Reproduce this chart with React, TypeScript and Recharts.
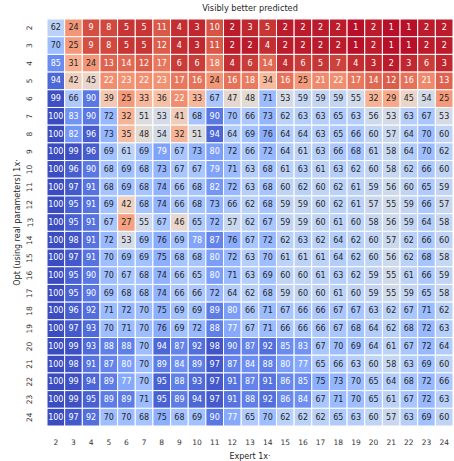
import { ScatterChart, Scatter, XAxis, YAxis, Label } from "recharts";

const colLabels = [2, 3, 4, 5, 6, 7, 8, 9, 10, 11, 12, 13, 14, 15, 16, 17, 18, 19, 20, 21, 22, 23, 24];
const rowLabels = [2, 3, 4, 5, 6, 7, 8, 9, 10, 11, 12, 13, 14, 15, 16, 17, 18, 19, 20, 21, 22, 23, 24];

const r2 = [62, 24, 9, 8, 5, 5, 11, 4, 3, 10, 2, 3, 5, 2, 2, 2, 2, 1, 2, 1, 1, 2, 2];
const r3 = [70, 25, 9, 8, 5, 5, 12, 4, 3, 11, 2, 2, 4, 2, 2, 2, 2, 1, 2, 1, 1, 2, 2];
const r4 = [85, 31, 24, 13, 14, 12, 17, 6, 6, 18, 4, 6, 14, 4, 6, 5, 7, 4, 3, 2, 3, 6, 3];
const r5 = [94, 42, 45, 22, 23, 22, 23, 17, 16, 24, 16, 18, 34, 16, 25, 21, 22, 17, 14, 12, 16, 21, 13];
const r6 = [99, 66, 90, 39, 25, 33, 36, 22, 33, 67, 47, 48, 71, 53, 59, 59, 59, 55, 32, 29, 45, 54, 25];
const r7 = [100, 83, 90, 72, 32, 51, 53, 41, 68, 90, 70, 66, 73, 62, 63, 63, 65, 63, 56, 53, 63, 67, 53];
const r8 = [100, 82, 96, 73, 35, 48, 54, 32, 51, 94, 64, 69, 76, 64, 64, 63, 65, 66, 60, 57, 64, 70, 60];
const r9 = [100, 99, 96, 69, 61, 69, 79, 67, 73, 80, 72, 66, 72, 64, 61, 63, 66, 68, 61, 58, 64, 70, 62];
const r10 = [100, 96, 90, 68, 69, 68, 73, 67, 67, 79, 71, 63, 68, 61, 63, 61, 63, 62, 60, 58, 62, 66, 60];
const r11 = [100, 97, 91, 68, 69, 68, 74, 66, 68, 82, 72, 63, 68, 60, 62, 60, 62, 61, 59, 56, 60, 65, 59];
const r12 = [100, 95, 91, 69, 42, 68, 74, 66, 68, 73, 66, 62, 68, 59, 59, 60, 62, 61, 57, 55, 59, 66, 57];
const r13 = [100, 95, 91, 67, 27, 55, 67, 46, 65, 72, 57, 62, 67, 59, 59, 60, 61, 60, 58, 56, 59, 64, 58];
const r14 = [100, 98, 91, 72, 53, 69, 76, 69, 78, 87, 76, 67, 72, 62, 63, 62, 64, 62, 60, 57, 62, 66, 60];
const r15 = [100, 97, 91, 70, 69, 69, 75, 68, 68, 80, 72, 63, 70, 61, 61, 61, 64, 62, 60, 56, 62, 68, 58];
const r16 = [100, 95, 90, 70, 67, 68, 74, 66, 65, 80, 71, 63, 69, 60, 60, 61, 63, 62, 59, 55, 61, 66, 59];
const r17 = [100, 95, 90, 69, 68, 68, 74, 66, 66, 72, 64, 62, 68, 59, 60, 60, 61, 60, 59, 55, 59, 65, 58];
const r18 = [100, 96, 92, 71, 72, 70, 75, 69, 69, 89, 80, 66, 71, 67, 66, 66, 67, 67, 63, 62, 67, 71, 62];
const r19 = [100, 97, 93, 70, 71, 70, 76, 69, 72, 88, 77, 67, 71, 66, 66, 66, 67, 68, 64, 62, 68, 72, 63];
const r20 = [100, 99, 93, 88, 88, 70, 94, 87, 92, 98, 90, 87, 92, 85, 83, 67, 70, 69, 64, 61, 67, 72, 64];
const r21 = [100, 98, 91, 87, 80, 70, 89, 84, 89, 97, 87, 84, 88, 80, 77, 65, 66, 63, 60, 58, 63, 69, 60];
const r22 = [100, 99, 94, 89, 77, 70, 95, 88, 93, 97, 91, 87, 91, 86, 85, 75, 73, 70, 65, 64, 68, 72, 66];
const r23 = [100, 99, 95, 89, 89, 71, 95, 89, 94, 97, 91, 88, 92, 86, 84, 67, 71, 70, 65, 61, 67, 72, 63];
const r24 = [100, 97, 92, 70, 70, 68, 75, 68, 69, 90, 77, 65, 70, 62, 62, 62, 65, 63, 60, 57, 63, 69, 60];

const rows = [r2, r3, r4, r5, r6, r7, r8, r9, r10, r11, r12, r13, r14, r15, r16, r17, r18, r19, r20, r21, r22, r23, r24];

// coolwarm samples (Moreland), 0 -> blue, 1 -> red
const coolwarm = [
  [59, 76, 192], [68, 90, 204], [77, 104, 215], [87, 117, 225], [98, 130, 234],
  [108, 142, 241], [119, 154, 247], [130, 165, 251], [141, 176, 254], [152, 185, 255],
  [163, 194, 255], [174, 201, 253], [184, 208, 249], [194, 213, 244], [204, 217, 238],
  [213, 219, 230], [221, 221, 221], [229, 216, 209], [236, 211, 197], [241, 204, 184],
  [245, 196, 172], [247, 187, 159], [247, 177, 147], [247, 166, 134], [244, 154, 123],
  [241, 141, 111], [236, 127, 99], [229, 112, 89], [222, 96, 77], [213, 80, 66],
  [203, 62, 56], [192, 40, 47], [180, 4, 38],
];

const W = 454;
const H = 461;
const M = { top: 19, right: 1, bottom: 15, left: 0 };
const Y_W = 47;
const X_H = 20;
const CELL_W = (W - M.left - M.right - Y_W) / colLabels.length;
const CELL_H = (H - M.top - M.bottom - X_H) / rowLabels.length;
const FONT = "DejaVu Sans";

function cellRgb(v: number) {
  // reversed map: high values blue, low values red
  const t = (1 - v / 100) * (coolwarm.length - 1);
  const i = Math.min(Math.floor(t), coolwarm.length - 2);
  const f = t - i;
  const a = coolwarm[i];
  const b = coolwarm[i + 1];
  return [0, 1, 2].map((k) => a[k] + (b[k] - a[k]) * f);
}

function textFor(rgb: number[]) {
  const lin = rgb.map((c) => {
    const s = c / 255;
    return s <= 0.03928 ? s / 12.92 : Math.pow((s + 0.055) / 1.055, 2.4);
  });
  const lum = 0.2126 * lin[0] + 0.7152 * lin[1] + 0.0722 * lin[2];
  return lum > 0.408 ? "#262626" : "#ffffff";
}

const data = rows.flatMap((vals, ri) =>
  vals.map((v, ci) => ({ x: colLabels[ci], y: rowLabels[ri], v }))
);

function HeatCell(props: any) {
  const { cx, cy, payload } = props;
  const rgb = cellRgb(payload.v);
  const fill = `rgb(${rgb.map((c) => Math.round(c)).join(",")})`;
  return (
    <g>
      <rect
        x={cx - CELL_W / 2}
        y={cy - CELL_H / 2}
        width={CELL_W}
        height={CELL_H}
        fill={fill}
        stroke="#ffffff"
        strokeWidth={1}
      />
      <text
        x={cx}
        y={cy}
        textAnchor="middle"
        dominantBaseline="central"
        fontSize={8}
        fontFamily={FONT}
        fill={textFor(rgb)}
      >
        {payload.v}
      </text>
    </g>
  );
}

function YTick(props: any) {
  const { x, y, payload } = props;
  return (
    <text
      x={x}
      y={y}
      transform={`rotate(-90 ${x} ${y})`}
      textAnchor="middle"
      dominantBaseline="central"
      fontSize={7.5}
      fontFamily={FONT}
      fill="#333"
    >
      {payload.value}
    </text>
  );
}

export default function App() {
  return (
    <div style={{ position: "absolute", left: 0, top: 0, width: W, height: H, fontFamily: FONT }}>
      <div
        style={{
          position: "absolute",
          left: M.left + Y_W,
          top: 3,
          width: W - M.left - M.right - Y_W,
          textAlign: "center",
          fontSize: 8.2,
          lineHeight: "10px",
          color: "#262626",
        }}
      >
        Visibly better predicted
      </div>
      <ScatterChart width={W} height={H} margin={M}>
        <XAxis
          type="number"
          dataKey="x"
          domain={[1.5, 24.5]}
          ticks={colLabels}
          interval={0}
          height={X_H}
          axisLine={false}
          tickLine={false}
          tickSize={6}
          tickMargin={8}
          tick={{ fontSize: 7.5, fontFamily: FONT, fill: "#333" }}
        >
          <Label
            value="Expert 1x·"
            position="bottom"
            offset={7}
            style={{ fontSize: 8, fontFamily: FONT, fill: "#262626" }}
          />
        </XAxis>
        <YAxis
          type="number"
          dataKey="y"
          domain={[1.5, 24.5]}
          reversed
          ticks={rowLabels}
          interval={0}
          width={Y_W}
          axisLine={false}
          tickLine={false}
          tickSize={6}
          tickMargin={11}
          tick={<YTick />}
        >
          <Label
            value="Opt (using real parameters) 1x·"
            angle={-90}
            position="insideLeft"
            offset={17}
            style={{ fontSize: 8, fontFamily: FONT, fill: "#262626", textAnchor: "middle" }}
          />
        </YAxis>
        <Scatter data={data} shape={<HeatCell />} isAnimationActive={false} />
      </ScatterChart>
    </div>
  );
}
